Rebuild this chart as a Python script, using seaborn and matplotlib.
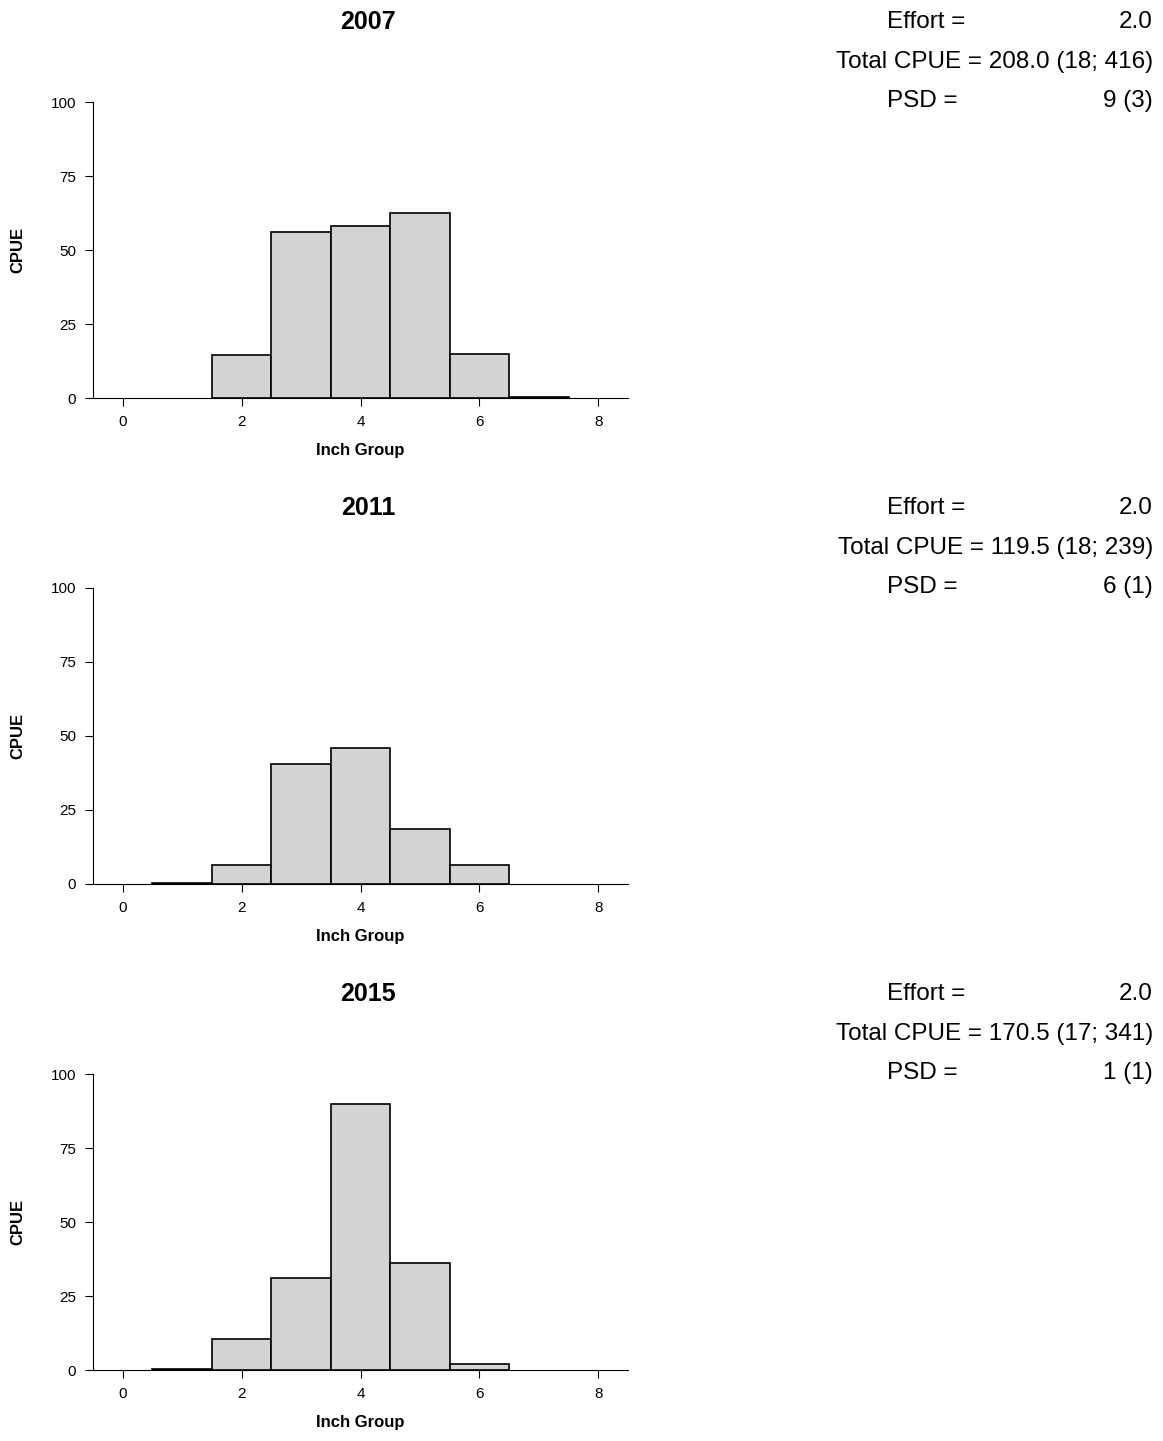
import matplotlib
matplotlib.use("Agg")
import matplotlib.pyplot as plt
import seaborn as sns
import pandas as pd

sns.set_style("ticks")
plt.rcParams['font.family'] = ['Liberation Sans', 'DejaVu Sans']
plt.rcParams['text.color'] = 'black'
plt.rcParams['axes.labelcolor'] = 'black'
plt.rcParams['xtick.color'] = 'black'
plt.rcParams['ytick.color'] = 'black'
plt.rcParams['axes.edgecolor'] = 'black'

inch = [0, 1, 2, 3, 4, 5, 6, 7, 8]
years = ["2007", "2011", "2015"]
cpue_2007 = [0, 0, 14.5, 56, 58, 62.5, 15, 0.5, 0]
cpue_2011 = [0, 0.5, 6.5, 40.5, 46, 18.5, 6.5, 0, 0]
cpue_2015 = [0, 0.5, 10.5, 31, 90, 36, 2, 0, 0]
effort = ["2.0", "2.0", "2.0"]
total = ["208.0 (18; 416)", "119.5 (18; 239)", "170.5 (17; 341)"]
psd = ["9 (3)", "6 (1)", "1 (1)"]
series = [cpue_2007, cpue_2011, cpue_2015]

fig = plt.figure(figsize=(11.63, 14.41), dpi=100)
W, H = 1163, 1441
for i, (yr, vals) in enumerate(zip(years, series)):
    off = 486 * i
    ax = fig.add_axes([93 / W, 1 - (398 + off) / H, 535 / W, 296 / H])
    df = pd.DataFrame({"inch": inch, "cpue": vals})
    df = df[df.cpue > 0]
    sns.histplot(data=df, x="inch", weights="cpue", discrete=True, ax=ax,
                 color="#d3d3d3", edgecolor="black", linewidth=1.2, alpha=1)
    ax.set_xlim(-0.5, 8.5)
    ax.set_ylim(0, 100)
    ax.set_xticks([0, 2, 4, 6, 8])
    ax.set_yticks([0, 25, 50, 75, 100])
    ax.tick_params(labelsize=11, direction="out", length=6, pad=6)
    ax.set_xlabel("Inch Group", fontsize=12, fontweight="bold", labelpad=10)
    ax.set_ylabel("CPUE", fontsize=12, fontweight="bold", labelpad=18)
    sns.despine(ax=ax)
    fig.text(368 / W, 1 - (22 + off) / H, yr, ha="center", va="center",
             fontsize=18, fontweight="bold")
    fs = 17.5
    fig.text(926 / W, 1 - (22 + off) / H, "Effort =", ha="center", va="center", fontsize=fs)
    fig.text(1153 / W, 1 - (22 + off) / H, effort[i], ha="right", va="center", fontsize=fs)
    fig.text(1153 / W, 1 - (62 + off) / H, "Total CPUE = " + total[i], ha="right", va="center", fontsize=fs)
    fig.text(922 / W, 1 - (101 + off) / H, "PSD =", ha="center", va="center", fontsize=fs)
    fig.text(1153 / W, 1 - (101 + off) / H, psd[i], ha="right", va="center", fontsize=fs)

fig.savefig("out.png", dpi=100)
